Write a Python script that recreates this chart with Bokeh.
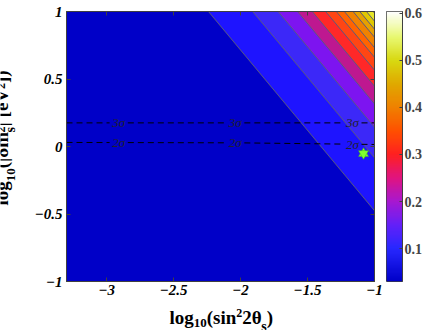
import numpy as np
from bokeh.plotting import figure
from bokeh.models import Range1d, LinearAxis, FixedTicker, Label, LinearColorMapper
from bokeh.core.properties import value
from bokeh.layouts import row, column
from bokeh.embed import file_html
from bokeh.resources import INLINE

# ---------------- data ----------------
# filled-contour levels (colour value)
levels = [0.05, 0.10, 0.15, 0.20, 0.25, 0.30, 0.35, 0.40, 0.45, 0.50, 0.55, 0.60]
# log10(sin^2 2theta_s) where each contour line meets log10(dm^2) = 1 (top edge)
top_cross = [-2.24, -1.91, -1.72, -1.575, -1.465, -1.365, -1.285, -1.225, -1.16, -1.11, -1.06, -1.01]
# common slope of the (parallel) contour lines, d log10(dm2) / d log10(sin2)
contour_slope = -1.19
# colour of each filled band: below first level, then above each level
band_colors = ["#0000c8", "#1e14ff", "#3c28f8", "#7d14f0", "#be1890", "#ff2828",
               "#ff4614", "#ff6400", "#f08200", "#e6a000", "#e0c800", "#e6e628", "#f0f080"]

# dashed confidence curves
sig3_x = [-3.3, -1.0]
sig3_y = [0.175, 0.175]
sig2_x = [-3.3, -2.0, -1.0]
sig2_y = [0.03, 0.027, 0.015]
sig_label_x = [-2.91, -2.04, -1.165]

# best-fit point
best_x = [-1.082]
best_y = [-0.052]

# axes
x_ticks = [-3, -2.5, -2, -1.5, -1]
x_tick_labels = ["\u22123", "\u22122.5", "\u22122", "\u22121.5", "\u22121"]
y_ticks = [-1, -0.5, 0, 0.5, 1]
y_tick_labels = ["\u22121", "\u22120.5", "0", "0.5", "1"]
# axis titles as (text, role) pieces: main / sub / sup / sub2 (stacked under sup)
x_title = [("log", "main"), ("10", "sub"), ("(sin", "main"), ("2", "sup"),
           ("2\u03b8", "main"), ("s", "sub2"), (")", "main")]
y_title = [("log", "main"), ("10", "sub"), ("(|\u03b4m", "main"), ("2", "sup"), ("s", "sub2"),
           ("| [eV", "main"), ("2", "sup"), ("])", "main")]

# colour bar
cbar_low, cbar_high = 0.03, 0.604
cbar_ticks = [0.1, 0.2, 0.3, 0.4, 0.5, 0.6]
cbar_stops = [0.03, 0.10, 0.15, 0.20, 0.25, 0.30, 0.35, 0.40, 0.45, 0.50, 0.55, 0.604]
cbar_stop_colors = ["#0000c8", "#2828ff", "#6420f8", "#a818d0", "#e01480", "#ff2020",
                    "#ff5000", "#f08000", "#e0a800", "#d8d810", "#e8f870", "#ffffff"]

# ---------------- layout constants ----------------
FONT = "Liberation Serif"
AX = "#404040"
YL_W = 23            # width of the y-title strip
ML, MR, MT, MB = 43, 12, 11, 25   # main figure borders
FW, FH = 308, 270
MAIN_W = ML + FW + MR
MAIN_H = MT + FH + MB
TOTAL_H = 330
XL_H = TOTAL_H - MAIN_H
FRAME_L, FRAME_R = YL_W + ML, YL_W + ML + FW      # page x of the plot frame
FRAME_T, FRAME_B = MT, MT + FH                      # page y of the plot frame

# ---------------- main figure ----------------
p = figure(frame_width=FW, frame_height=FH, x_range=Range1d(-3.3, -1.0), y_range=Range1d(-1, 1),
           output_backend="svg", toolbar_location=None,
           min_border_left=ML, min_border_right=MR, min_border_top=MT, min_border_bottom=MB)
p.background_fill_color = band_colors[0]
p.border_fill_color = "white"
p.grid.visible = False
p.outline_line_color = AX

far = 10.0
tri_xs, tri_ys, line_xs, line_ys = [], [], [], []
for xt in top_cross:
    tri_xs.append([xt - far, xt + far, xt + far])
    tri_ys.append([1 - contour_slope * far, 1 + contour_slope * far, 1 - contour_slope * far])
    line_xs.append([xt - far, xt + far])
    line_ys.append([1 - contour_slope * far, 1 + contour_slope * far])

p.patches(tri_xs, tri_ys, fill_color=band_colors[1:len(top_cross) + 1], line_color=None)
p.multi_line(line_xs, line_ys, line_color="#5a5a80", line_width=1)

gap = 0.068
def segments(sx, sy, lx):
    xs, ys = [], []
    bounds = [sx[0]]
    for l in lx:
        bounds += [l - gap, l + gap]
    bounds.append(sx[-1])
    for a, b in zip(bounds[0::2], bounds[1::2]):
        xx = [a] + [v for v in sx if a < v < b] + [b]
        xs.append(xx)
        ys.append(list(np.interp(xx, sx, sy)))
    return xs, ys

for sx, sy, txt in [(sig3_x, sig3_y, "3\u03c3"), (sig2_x, sig2_y, "2\u03c3")]:
    xs, ys = segments(sx, sy, sig_label_x)
    p.multi_line(xs, ys, line_color="black", line_width=1, line_dash="6 4")
    for lx in sig_label_x:
        p.add_layout(Label(x=lx, y=float(np.interp(lx, sx, sy)), text=txt,
                           text_align="center", text_baseline="middle",
                           text_font=FONT, text_font_style="italic",
                           text_font_size="13px", text_color="#202030"))

p.scatter(best_x, best_y, marker="triangle", size=10, fill_color="#80ff30", line_color="#40b020", line_width=0.5)
p.scatter(best_x, best_y, marker="inverted_triangle", size=10, fill_color="#80ff30", line_color="#40b020", line_width=0.5)

def style(ax, labels=True):
    ax.major_tick_in = 4
    ax.major_tick_out = 0
    ax.minor_tick_line_color = None
    ax.axis_line_color = AX
    ax.major_tick_line_color = AX
    if labels:
        ax.major_label_text_font = FONT
        ax.major_label_text_font_style = "bold italic"
        ax.major_label_text_font_size = "15px"
        ax.major_label_text_color = "black"
    else:
        ax.major_label_text_font_size = "0px"
        ax.major_label_text_color = None
        ax.major_label_standoff = 0

p.xaxis.ticker = FixedTicker(ticks=x_ticks)
p.xaxis.major_label_overrides = dict(zip(x_ticks, x_tick_labels))
p.yaxis.ticker = FixedTicker(ticks=y_ticks)
p.yaxis.major_label_overrides = dict(zip(y_ticks, y_tick_labels))
style(p.xaxis[0]); style(p.yaxis[0])
p.xaxis.major_label_standoff = 3
p.yaxis.major_label_standoff = 4

top_ax = LinearAxis(ticker=FixedTicker(ticks=x_ticks))
right_ax = LinearAxis(ticker=FixedTicker(ticks=y_ticks))
style(top_ax, False); style(right_ax, False)
p.add_layout(top_ax, "above")
p.add_layout(right_ax, "right")

# ---------------- axis-title strips (text with sub/superscripts) ----------------
EM = {"l": .278, "o": .5, "g": .5, "1": .5, "0": .5, "(": .333, "s": .389, "i": .278, "n": .556,
      "2": .5, "\u03b8": .5, ")": .333, "|": .22, "\u03b4": .5, "m": .833, " ": .25, "[": .333,
      "e": .444, "V": .722, "]": .333}
SIZE = {"main": 19, "sub": 13, "sup": 12, "sub2": 14}
ASC = 0.891   # font-box ascent of Liberation Serif (em)

def adv(t, size):
    return sum(EM.get(c, .5) for c in t) * size

def text_fig(w, h, xr, yr):
    f = figure(width=w, height=h, x_range=Range1d(*xr), y_range=Range1d(*yr),
               output_backend="svg", toolbar_location=None, min_border=0,
               x_axis_location=None, y_axis_location=None)
    f.grid.visible = False
    f.outline_line_color = None
    f.background_fill_color = "white"
    f.border_fill_color = "white"
    return f

# x title strip: frame lined up with the main frame horizontally; data y = TOTAL_H - page y
xl = text_fig(MAIN_W, XL_H, (FRAME_L, FRAME_R), (0, XL_H))
x_base = {"main": 317, "sub": 322, "sup": 312, "sub2": 326}
cx = 169.0
for t, role in x_title:
    size = SIZE[role]
    xl.text(x=[cx], y=[TOTAL_H - x_base[role]], text=[t],
            text_font=value(FONT), text_font_style=value("bold"), text_font_size=value("%dpx" % size),
            text_align="left", text_baseline="alphabetic", text_color="black")
    cx += adv(t, size)

# y title strip: frame lined up vertically with the plot frames; the rotated text box
# starts at the anchor x, so the anchor is the baseline minus the ascent
yl = text_fig(YL_W, TOTAL_H, (0, YL_W), (TOTAL_H - FRAME_B, TOTAL_H - FRAME_T))
y_base = {"main": 18.0, "sub": 22.0, "sup": 11.0, "sub2": 22.0}
cy = 205.0
i = 0
while i < len(y_title):
    group = [y_title[i]]
    if y_title[i][1] == "sup" and i + 1 < len(y_title) and y_title[i + 1][1] == "sub2":
        group.append(y_title[i + 1])
        i += 1
    w = max(adv(t, SIZE[r]) for t, r in group)
    for gt, gr in group:
        gs = SIZE[gr]
        yl.text(x=[y_base[gr] - ASC * gs], y=[TOTAL_H - cy], text=[gt], angle=np.pi / 2,
                text_font=value(FONT), text_font_style=value("bold"), text_font_size=value("%dpx" % gs),
                text_align="left", text_baseline="alphabetic", text_color="black")
    cy -= w
    i += 1

# ---------------- colour bar ----------------
stop_rgb = np.array([[int(c[1:3], 16), int(c[3:5], 16), int(c[5:7], 16)] for c in cbar_stop_colors], float)
vals = np.linspace(cbar_low, cbar_high, 256)
palette = ["#%02x%02x%02x" % tuple(int(round(np.interp(v, cbar_stops, stop_rgb[:, k]))) for k in range(3))
           for v in vals]
mapper = LinearColorMapper(palette=palette, low=cbar_low, high=cbar_high)

cb = figure(frame_width=16, frame_height=FH, x_range=Range1d(0, 1), y_range=Range1d(cbar_low, cbar_high),
            output_backend="svg", toolbar_location=None, y_axis_location="right",
            min_border_left=0, min_border_right=20, min_border_top=MT, min_border_bottom=TOTAL_H - MT - FH)
cb.grid.visible = False
cb.xaxis.visible = False
cb.outline_line_color = AX
cb.image(image=[vals.reshape(-1, 1)], x=0, y=cbar_low, dw=1, dh=cbar_high - cbar_low, color_mapper=mapper)
cax = cb.yaxis[0]
cax.ticker = FixedTicker(ticks=cbar_ticks)
cax.major_tick_in = 3
cax.major_tick_out = 0
cax.minor_tick_line_color = None
cax.axis_line_color = AX
cax.major_tick_line_color = AX
cax.major_label_text_font = FONT
cax.major_label_text_font_style = "bold"
cax.major_label_text_font_size = "14px"
cax.major_label_standoff = 2

layout = row(yl, column(p, xl), cb)
open("out.html", "w").write(file_html(layout, INLINE))
